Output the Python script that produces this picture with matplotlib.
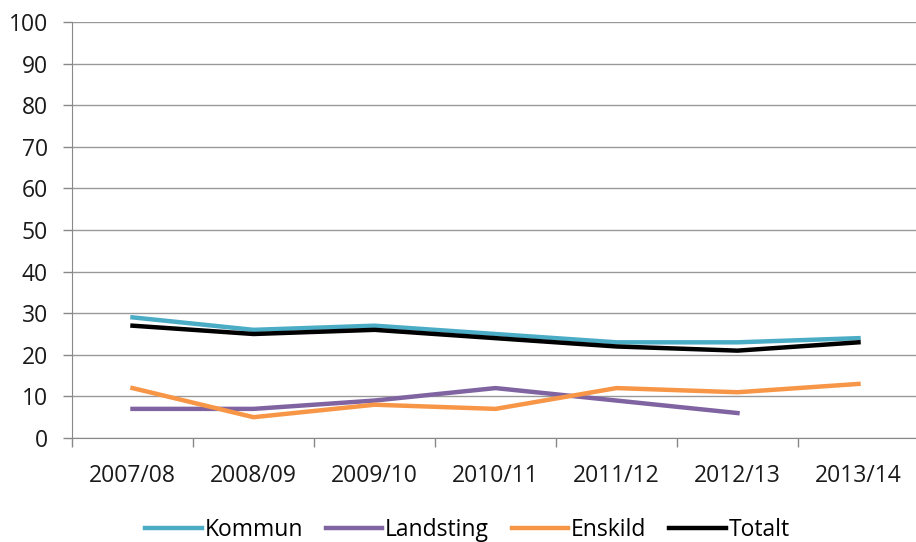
import numpy as np
import matplotlib.pyplot as plt

# data
years = ["2007/08", "2008/09", "2009/10", "2010/11", "2011/12", "2012/13", "2013/14"]
kommun = [29, 26, 27, 25, 23, 23, 24]
landsting = [7, 7, 9, 12, 9, 6, np.nan]
enskild = [12, 5, 8, 7, 12, 11, 13]
totalt = [27, 25, 26, 24, 22, 21, 23]

plt.rcParams['font.family'] = ['Open Sans', 'DejaVu Sans']
fs = 16.5

fig = plt.figure(figsize=(9.16, 5.42), dpi=100)
ax = fig.add_axes([72 / 916, 104 / 542, 847 / 916, 416 / 542])

x = np.arange(len(years))
ax.plot(x, kommun, color="#4BACC6", lw=3.2, label="Kommun")
ax.plot(x, landsting, color="#8064A2", lw=3.2, label="Landsting")
ax.plot(x, enskild, color="#F79646", lw=3.2, label="Enskild")
ax.plot(x, totalt, color="black", lw=3.2, label="Totalt")

ax.set_xlim(-0.5, len(years) - 0.5)
ax.set_ylim(0, 100)
ax.set_yticks(range(0, 101, 10))
ax.set_xticks(x)
ax.set_xticklabels(years)
ax.set_xticks(np.arange(-0.5, len(years)), minor=True)
ax.tick_params(axis="x", which="major", length=0, pad=19, labelsize=fs, labelcolor="#1a1a1a")
ax.tick_params(axis="x", which="minor", length=6.5, color="#888888", width=1)
ax.tick_params(axis="y", length=6.5, color="#888888", width=1, labelsize=fs,
               labelcolor="#1a1a1a", pad=11)

ax.grid(axis="y", color="#999999", lw=1)
ax.set_axisbelow(True)
for s in ["top", "right"]:
    ax.spines[s].set_visible(False)
for s in ["left", "bottom"]:
    ax.spines[s].set_color("#888888")

ax.legend(loc="center", bbox_to_anchor=(0.5 - 28 / 847, -0.222), ncol=4, frameon=False,
          fontsize=fs, handlelength=2.45, handletextpad=0.13, columnspacing=1.0,
          borderpad=0)

fig.savefig("out.png", dpi=100)
